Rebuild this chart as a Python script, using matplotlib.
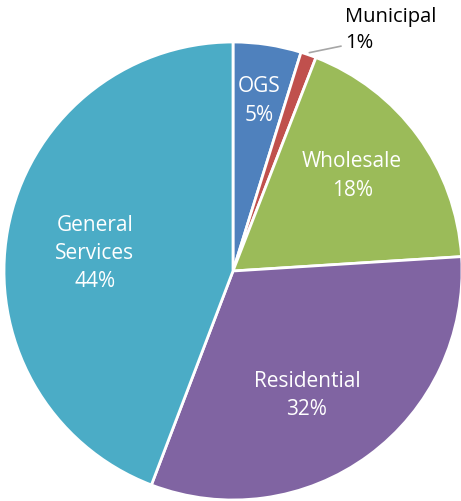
import numpy as np
import matplotlib
matplotlib.use("Agg")
import matplotlib.pyplot as plt

plt.rcParams["font.family"] = ["Open Sans", "DejaVu Sans"]

# Data
categories = ["OGS", "Municipal", "Wholesale", "Residential", "General\nServices"]
shares = [4.8, 1.1, 18.1, 31.8, 44.2]
colors = ["#4F81BD", "#C0504D", "#9BBB59", "#8064A2", "#4BACC6"]

# label placement inside each slice (radius fraction, angle nudge in degrees)
label_radius = [0.755, None, 0.668, 0.627, 0.608]
label_nudge = [0, 0, 2.7, -5.4, 2.9]

fig = plt.figure(figsize=(4.61, 5.02), dpi=100)
ax = fig.add_axes([4 / 461, 1 / 502, 458 / 461, 458 / 502])

wedges, _ = ax.pie(shares, colors=colors, startangle=90, counterclock=False,
                   radius=1.0, wedgeprops=dict(edgecolor="white", linewidth=2))
ax.set_xlim(-1, 1)
ax.set_ylim(-1, 1)
ax.set_aspect("equal")
ax.axis("off")

for w, name, val, r, nudge in zip(wedges, categories, shares, label_radius, label_nudge):
    mid = np.deg2rad((w.theta1 + w.theta2) / 2 + nudge)
    pct = f"{val:.0f}%"
    if r is None:
        # small slice: label outside with leader line
        x0, y0 = np.cos(mid), np.sin(mid)
        ax.annotate(f"{name}\n{pct}", xy=(x0 * 1.01, y0 * 1.01),
                    xytext=(0.49, 0.955), textcoords="data",
                    ha="left", va="bottom", fontsize=14.5, color="black",
                    linespacing=1.45, annotation_clip=False,
                    arrowprops=dict(arrowstyle="-", color="#A6A6A6", lw=1.2,
                                    shrinkA=1, shrinkB=0,
                                    relpos=(0, 0.15)))
    else:
        ax.text(r * np.cos(mid), r * np.sin(mid), f"{name}\n{pct}",
                ha="center", va="center", fontsize=15, color="white",
                linespacing=1.45)

fig.savefig("out.png", dpi=100)
